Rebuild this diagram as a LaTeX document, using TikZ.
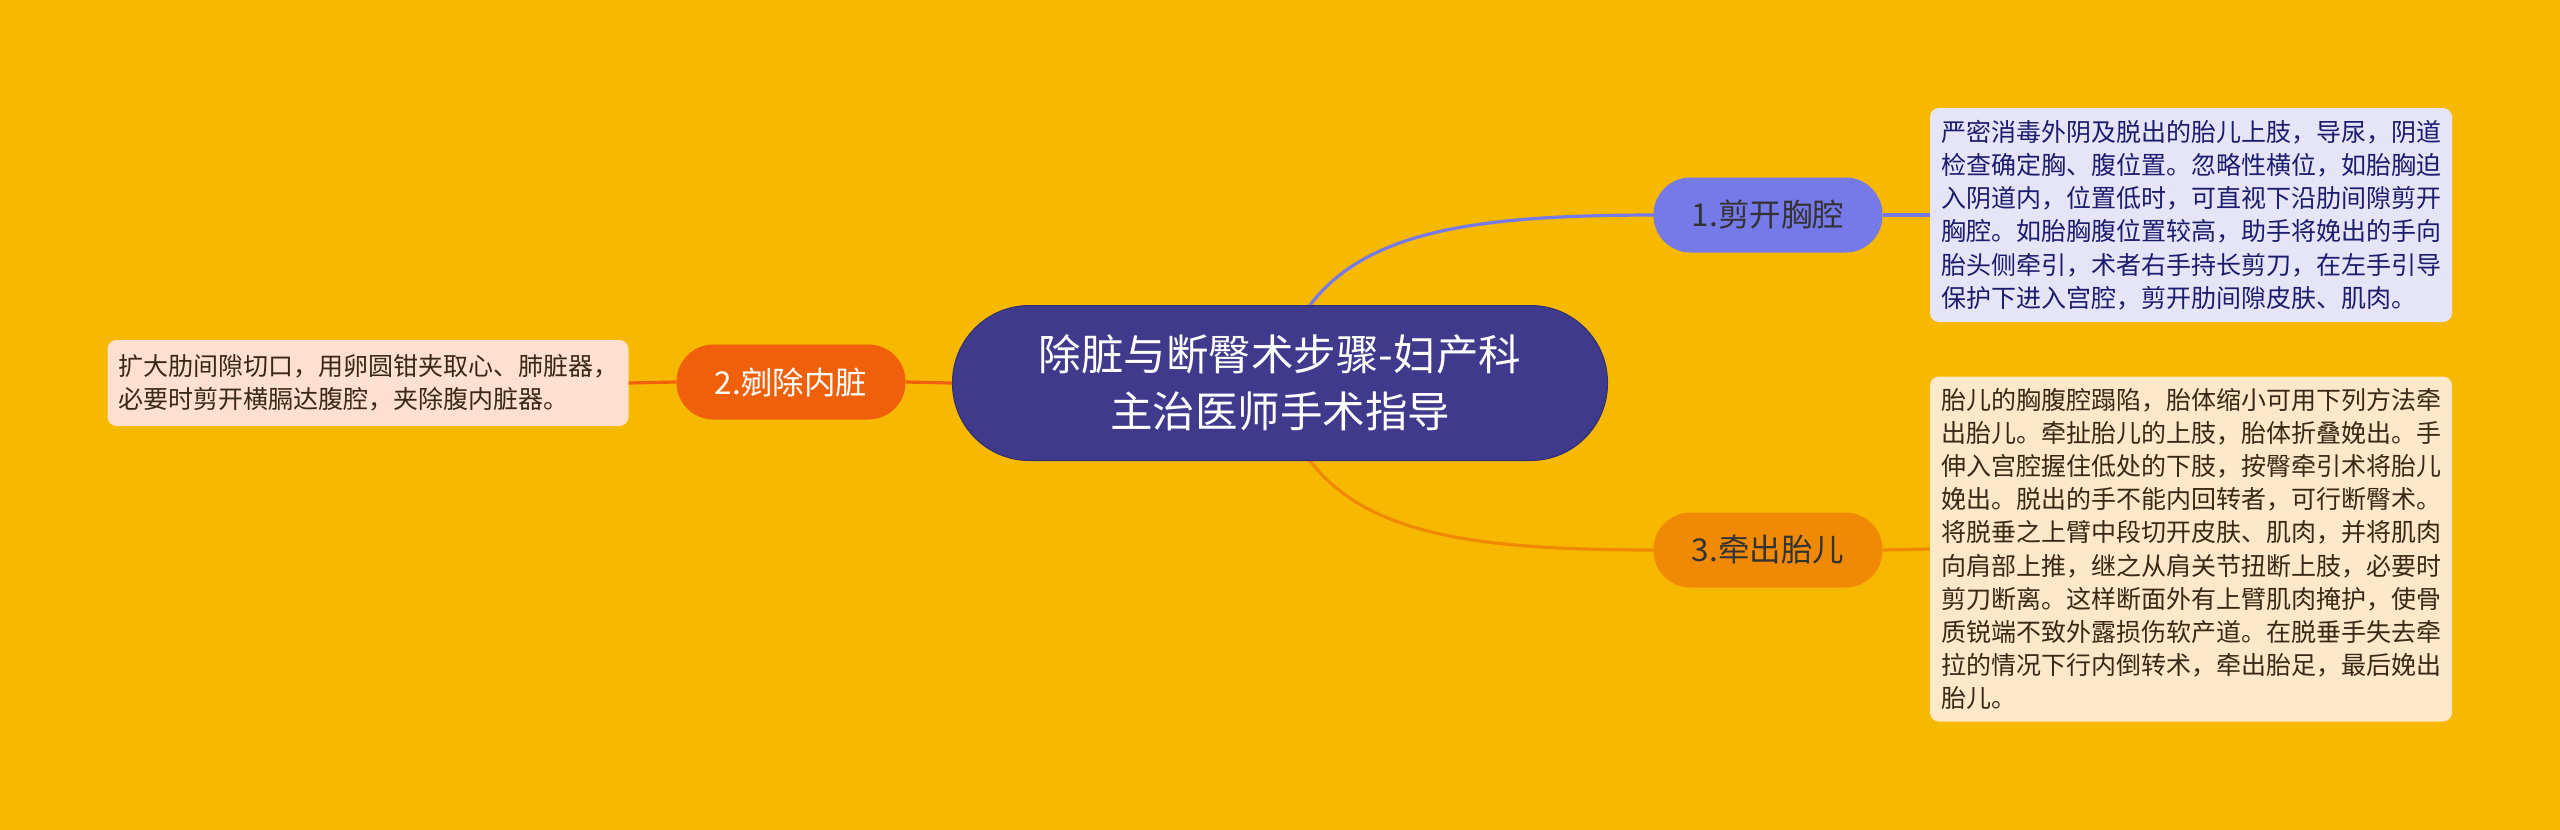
\documentclass[tikz,border=0pt]{standalone}
\usepackage{fontspec}
\setmainfont{Noto Sans CJK SC}
\definecolor{bg}{HTML}{F6B900}
\definecolor{cfill}{HTML}{3F3A8C}
\definecolor{bluen}{HTML}{7679E8}
\definecolor{redn}{HTML}{F0600A}
\definecolor{orn}{HTML}{F08A05}
\definecolor{leafa}{HTML}{E5E5F7}
\definecolor{leafb}{HTML}{FDE0CE}
\definecolor{leafc}{HTML}{FDE8CA}
\definecolor{navytxt}{HTML}{1C1C6E}
\definecolor{browntxt}{HTML}{3A2815}
\definecolor{greytxt}{HTML}{333333}
\tikzset{
  centerbox/.style={draw=cfill!80!black, line width=1pt, fill=cfill, text=white, rounded corners=77pt,
    minimum width=655pt, minimum height=155pt, align=center, inner sep=0pt,
    font=\fontsize{42.5}{57}\selectfont},
  branchbox/.style={rounded corners=37pt, minimum width=229pt, minimum height=75pt, inner sep=0pt,
    font=\fontsize{31.5}{36}\selectfont},
  leafbox/.style={rounded corners=9pt, align=left, inner sep=0pt,
    font=\fontsize{25}{33.2}\selectfont},
  conn/.style={line width=3.2pt}
}
\begin{document}
\begin{tikzpicture}[x=1pt,y=-1pt]
\path[fill=bg] (0,0) rectangle (2560,830);
\useasboundingbox (0,0) rectangle (2560,830);

% connectors first
\coordinate (c1) at (1275,383);
\draw[conn, bluen] (c1) .. controls (1310,235) and (1440,215) .. (1660,215) coordinate (e1);
\draw[conn, orn] (c1) .. controls (1310,531) and (1440,550) .. (1660,550) coordinate (e3);

\node[centerbox] (root) at (1280,383) {除脏与断臀术步骤-妇产科\\主治医师手术指导};

\node[branchbox, fill=bluen, text=greytxt] (n1) at (1768,215) {1.剪开胸腔};
\node[branchbox, fill=redn, text=white] (n2) at (791,382) {2.剜除内脏};
\node[branchbox, fill=orn, text=greytxt] (n3) at (1768,550) {3.牵出胎儿};

\node[leafbox, fill=leafa, text=navytxt, minimum width=522pt, minimum height=214pt] (l1) at (2191,215)
{严密消毒外阴及脱出的胎儿上肢，导尿，阴道\\检查确定胸、腹位置。忽略性横位，如胎胸迫\\入阴道内，位置低时，可直视下沿肋间隙剪开\\胸腔。如胎胸腹位置较高，助手将娩出的手向\\胎头侧牵引，术者右手持长剪刀，在左手引导\\保护下进入宫腔，剪开肋间隙皮肤、肌肉。};

\node[leafbox, fill=leafb, text=browntxt, minimum width=521pt, minimum height=86pt] (l2) at (368,383)
{扩大肋间隙切口，用卵圆钳夹取心、肺脏器，\\必要时剪开横膈达腹腔，夹除腹内脏器。};

\node[leafbox, fill=leafc, text=browntxt, minimum width=522pt, minimum height=345pt] (l3) at (2191,549)
{胎儿的胸腹腔蹋陷，胎体缩小可用下列方法牵\\出胎儿。牵扯胎儿的上肢，胎体折叠娩出。手\\伸入宫腔握住低处的下肢，按臀牵引术将胎儿\\娩出。脱出的手不能内回转者，可行断臀术。\\将脱垂之上臂中段切开皮肤、肌肉，并将肌肉\\向肩部上推，继之从肩关节扭断上肢，必要时\\剪刀断离。这样断面外有上臂肌肉掩护，使骨\\质锐端不致外露损伤软产道。在脱垂手失去牵\\拉的情况下行内倒转术，牵出胎足，最后娩出\\胎儿。};

% short connectors
\draw[conn, redn] (root.west) -- (n2.east);
\draw[conn, redn] (n2.west) -- (l2.east);
\draw[conn, bluen] (n1.east) -- (l1.west);
\draw[conn, orn] (n3.east) -- (l3.west);
\end{tikzpicture}
\end{document}
